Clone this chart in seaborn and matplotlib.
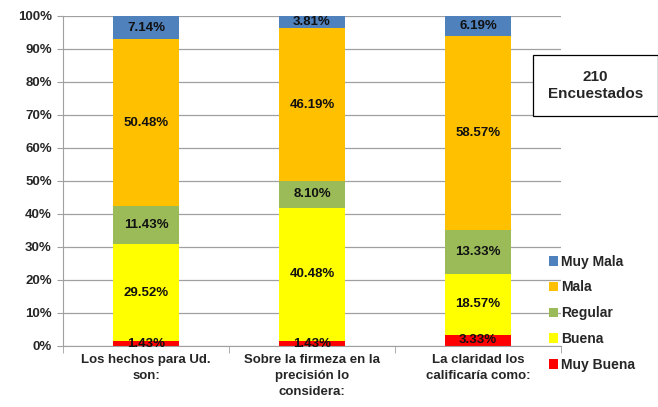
import matplotlib
matplotlib.use("Agg")
import matplotlib.pyplot as plt
import seaborn as sns
import pandas as pd
import numpy as np

categories = ["Los hechos para Ud.\nson:",
              "Sobre la firmeza en la\nprecisión lo\nconsidera:",
              "La claridad los\ncalificaría como:"]
series = ["Muy Buena", "Buena", "Regular", "Mala", "Muy Mala"]
muy_buena = [1.43, 1.43, 3.33]
buena = [29.52, 40.48, 18.57]
regular = [11.43, 8.10, 13.33]
mala = [50.48, 46.19, 58.57]
muy_mala = [7.14, 3.81, 6.19]
colors = ["#FF0000", "#FFFF00", "#9BBB59", "#FFC000", "#4F81BD"]
yticks = [0, 10, 20, 30, 40, 50, 60, 70, 80, 90, 100]

values = [muy_buena, buena, regular, mala, muy_mala]

sns.set_style("white")
plt.rcParams['font.family'] = ['Liberation Sans', 'DejaVu Sans']
plt.rcParams['font.weight'] = 'bold'

fig = plt.figure(figsize=(6.58, 4.07), dpi=100)
ax = fig.add_axes([0.0957, 0.150, 0.757, 0.811])

bottom = np.zeros(len(categories))
for name, vals, col in zip(series, values, colors):
    df = pd.DataFrame({"cat": categories, "val": vals})
    sns.barplot(data=df, x="cat", y="val", color=col, bottom=bottom,
                width=0.4, ax=ax, saturation=1, linewidth=0, label=name)
    bottom = bottom + np.array(vals)

for cont, vals in zip(ax.containers, values):
    labels = [f"{v:.2f}%" for v in vals]
    ax.bar_label(cont, labels=labels, label_type='center', fontsize=9.5,
                 fontweight='bold', color='#111111')

h, l = ax.get_legend_handles_labels()
if ax.get_legend() is not None:
    ax.get_legend().remove()

ax.set_ylim(0, 100)
ax.set_xlim(-0.5, 2.5)
ax.set_yticks(yticks)
ax.set_yticklabels([f"{t}%" for t in yticks], fontsize=9.5, fontweight='bold')
ax.set_xticks([0, 1, 2])
ax.set_xticklabels(categories, fontsize=9.5, fontweight='bold', linespacing=1.45)
ax.set_xlabel("")
ax.set_ylabel("")
ax.yaxis.grid(True, color="#A0A0A0", linewidth=0.9)
ax.set_axisbelow(True)
for s in ["top", "right"]:
    ax.spines[s].set_visible(False)
ax.spines["left"].set_color("#A0A0A0")
ax.spines["bottom"].set_color("#A0A0A0")
ax.tick_params(axis='y', length=4, color="#A0A0A0", left=True, pad=4)
ax.tick_params(axis='x', length=0, pad=6)
ax.set_xticks([-0.5, 0.5, 1.5, 2.5], minor=True)
ax.tick_params(axis='x', which='minor', length=5, color="#A0A0A0", bottom=True)

fig.legend(h[::-1], l[::-1], loc='upper left', bbox_to_anchor=(0.815, 0.405),
           frameon=False, handlelength=0.7, handleheight=0.7,
           handletextpad=0.2, labelspacing=0.85, prop={'weight': 'bold', 'size': 10})

fig.text(0.905, 0.790, "210\nEncuestados", ha='center', va='center', fontsize=11,
         fontweight='bold', linespacing=1.2,
         bbox=dict(boxstyle='square,pad=1.0', fc='white', ec='black', lw=0.9))

fig.savefig("out.png", dpi=100)
